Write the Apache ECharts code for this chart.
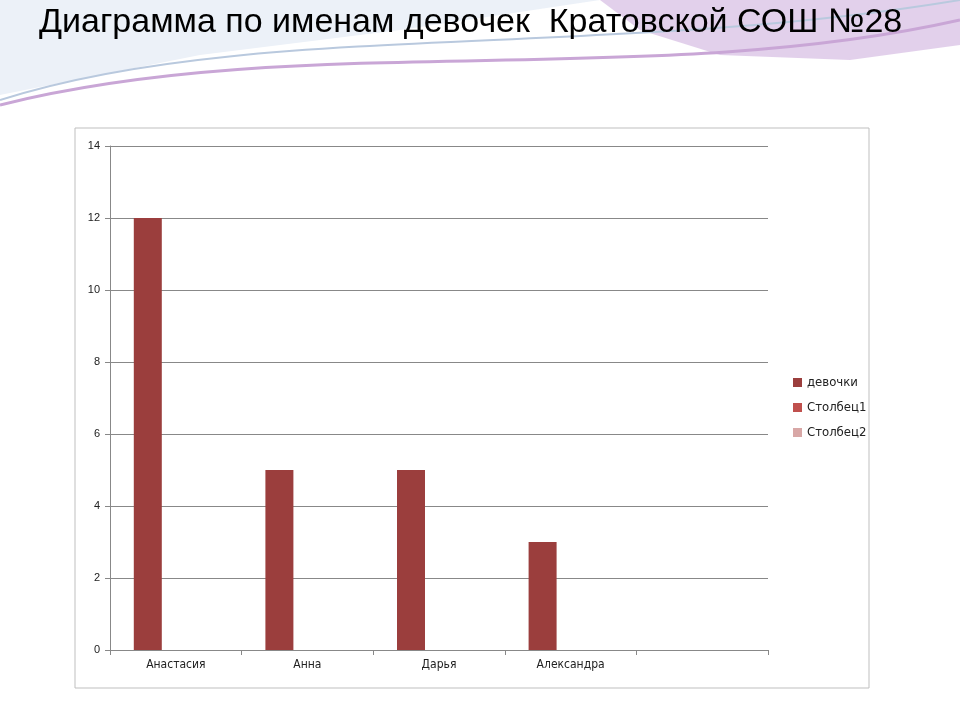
<!DOCTYPE html>
<html><head><meta charset="utf-8">
<script src="https://cdn.jsdelivr.net/npm/echarts@6/dist/echarts.min.js"></script>
<style>html,body{margin:0;padding:0;background:#fff}#c{width:960px;height:720px}</style>
</head><body><div id="c"></div>
<script>
const categories = ['Анастасия','Анна','Дарья','Александра',''];
const devochki = [12,5,5,3,null];
const stolbec1 = [null,null,null,null,null];
const stolbec2 = [null,null,null,null,null];
const seriesNames = ['девочки','Столбец1','Столбец2'];
const titleText = 'Диаграмма по именам девочек  Кратовской СОШ №28';

const chart = echarts.init(document.getElementById('c'));
chart.setOption({
  backgroundColor:'#ffffff',
  animation:false,
  graphic:[
    {type:'bezierCurve',shape:{x1:0,y1:100,x2:960,y2:0,cpx1:250,cpy1:20,cpx2:600,cpy2:60},style:{stroke:'#b9c9de',lineWidth:2,fill:null},z:-1},
    {type:'bezierCurve',shape:{x1:0,y1:105,x2:960,y2:20,cpx1:300,cpy1:30,cpx2:650,cpy2:90},style:{stroke:'#c9a6d6',lineWidth:3,fill:null},z:-1},
    {type:'polygon',shape:{points:[[600,0],[960,0],[960,45],[850,60],[720,55],[640,30]]},style:{fill:'rgba(190,150,210,0.45)'},z:-2},
    {type:'polygon',shape:{points:[[0,0],[600,0],[400,30],[200,55],[0,95]]},style:{fill:'rgba(200,215,235,0.35)'},z:-2},
    {type:'rect',shape:{x:75,y:128,width:794,height:560},style:{fill:'#fff',stroke:'#bfbfbf',lineWidth:1},z:-1},
    {type:'text',left:39,top:6,style:{text:titleText,font:'34px "Liberation Sans", Arial',fill:'#000'}}
  ],
  legend:{orient:'vertical',left:788,top:371,itemWidth:9,itemHeight:9,itemGap:12,icon:'rect',
    data:seriesNames,textStyle:{fontSize:13,color:'#222',fontFamily:'"DejaVu Sans Condensed",sans-serif'}},
  grid:{left:110,top:146,width:658,height:504,containLabel:false},
  xAxis:{type:'category',data:categories,
    axisLine:{lineStyle:{color:'#888'}},axisTick:{show:true,length:5,lineStyle:{color:'#888'}},
    axisLabel:{fontSize:12,color:'#222',margin:9,fontFamily:'"DejaVu Sans Condensed",sans-serif'}},
  yAxis:{type:'value',min:0,max:14,interval:2,
    axisLine:{show:true,lineStyle:{color:'#888'}},axisTick:{show:true,length:5,lineStyle:{color:'#888'}},
    splitLine:{lineStyle:{color:'#888'}},
    axisLabel:{fontSize:11,color:'#222',margin:10}},
  series:[
    {name:seriesNames[0],type:'bar',data:devochki,barWidth:28,barGap:'0%',itemStyle:{color:'#9b3e3d'}},
    {name:seriesNames[1],type:'bar',data:stolbec1,barWidth:28,barGap:'0%',itemStyle:{color:'#c0504d'}},
    {name:seriesNames[2],type:'bar',data:stolbec2,barWidth:28,barGap:'0%',itemStyle:{color:'#d8a7a6'}}
  ]
});
</script></body></html>
